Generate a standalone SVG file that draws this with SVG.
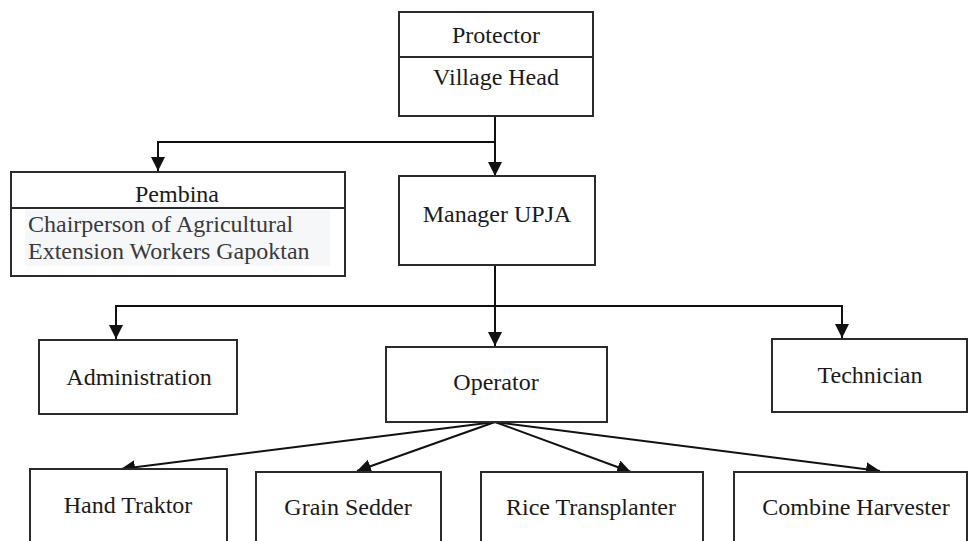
<svg xmlns="http://www.w3.org/2000/svg" width="968" height="541" viewBox="0 0 968 541">
<style>
.box{fill:#fff;stroke:#2b2b2b;stroke-width:2}
.t{font-family:"Liberation Serif","Times New Roman",serif;font-size:24px;fill:#1a1a1a;text-anchor:middle}
.tl{font-family:"Liberation Serif","Times New Roman",serif;font-size:24px;fill:#3a3a3a}
.c{fill:none;stroke:#111;stroke-width:2}
</style>
<defs>
<marker id="ah" markerUnits="userSpaceOnUse" markerWidth="14" markerHeight="14" viewBox="0 0 14 14" refX="14" refY="7" orient="auto">
<path d="M0,0 L14,7 L0,14 Z" fill="#111"/>
</marker>
</defs>
<rect width="968" height="541" fill="#fff"/>
<g id="connectors">
<path class="c" d="M495,116 V176" marker-end="url(#ah)"/>
<path class="c" d="M495,142 H158 V171" marker-end="url(#ah)"/>
<path class="c" d="M495,265 V346" marker-end="url(#ah)"/>
<path class="c" d="M495,306 H116 V339" marker-end="url(#ah)"/>
<path class="c" d="M495,306 H842 V338" marker-end="url(#ah)"/>
<path class="c" d="M495,422 L121,469" marker-end="url(#ah)"/>
<path class="c" d="M495,422 L357,471" marker-end="url(#ah)"/>
<path class="c" d="M495,422 L631,472" marker-end="url(#ah)"/>
<path class="c" d="M495,422 L880,471" marker-end="url(#ah)"/>
</g>
<g id="protector">
<rect class="box" x="399" y="12" width="194" height="104"/>
<line class="box" x1="399" y1="57" x2="593" y2="57"/>
<text class="t" x="496" y="43">Protector</text>
<text class="t" x="496" y="85">Village Head</text>
</g>
<g id="pembina">
<rect class="box" x="11" y="172" width="334" height="104"/>
<line class="box" x1="11" y1="208" x2="345" y2="208"/>
<text class="t" x="177" y="202">Pembina</text>
<rect x="25" y="210" width="305" height="56" fill="#f6f7f9"/>
<text class="tl" x="28" y="232">Chairperson of Agricultural</text>
<text class="tl" x="28" y="259">Extension Workers Gapoktan</text>
</g>
<g id="manager">
<rect class="box" x="399" y="176" width="196" height="89"/>
<text class="t" x="497" y="222">Manager UPJA</text>
</g>
<g id="administration">
<rect class="box" x="39" y="340" width="198" height="74"/>
<text class="t" x="139" y="385">Administration</text>
</g>
<g id="operator">
<rect class="box" x="386" y="347" width="221" height="75"/>
<text class="t" x="496" y="390">Operator</text>
</g>
<g id="technician">
<rect class="box" x="772" y="339" width="195" height="73"/>
<text class="t" x="870" y="383">Technician</text>
</g>
<g id="hand-traktor">
<rect class="box" x="30" y="469" width="197" height="90"/>
<text class="t" x="128" y="513">Hand Traktor</text>
</g>
<g id="grain-sedder">
<rect class="box" x="256" y="472" width="185" height="90"/>
<text class="t" x="348" y="515">Grain Sedder</text>
</g>
<g id="rice-transplanter">
<rect class="box" x="481" y="472" width="222" height="90"/>
<text class="t" x="591" y="515">Rice Transplanter</text>
</g>
<g id="combine-harvester">
<rect class="box" x="734" y="472" width="233" height="90"/>
<text class="t" x="856" y="515">Combine Harvester</text>
</g>
</svg>
